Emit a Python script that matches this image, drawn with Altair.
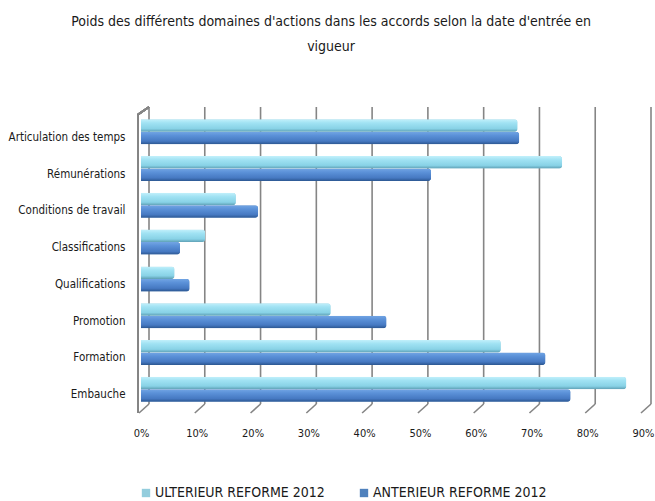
import altair as alt
import pandas as pd

# Action domains (top to bottom) and the two agreement periods
categories = [
    "Articulation des temps",
    "Rémunérations",
    "Conditions de travail",
    "Classifications",
    "Qualifications",
    "Promotion",
    "Formation",
    "Embauche",
]
series = ["ULTERIEUR REFORME 2012", "ANTERIEUR REFORME 2012"]
ulterieur = [0.675, 0.755, 0.17, 0.115, 0.06, 0.34, 0.645, 0.87]
anterieur = [0.678, 0.52, 0.21, 0.07, 0.087, 0.44, 0.725, 0.77]
x_ticks = [0.0, 0.1, 0.2, 0.3, 0.4, 0.5, 0.6, 0.7, 0.8, 0.9]

colors = ["#93cddd", "#4f81bd"]
FONT = "DejaVu Sans Condensed, DejaVu Sans, sans-serif"

rows = []
for cat, u, a in zip(categories, ulterieur, anterieur):
    rows.append({"domaine": cat, "periode": series[0], "part": u})
    rows.append({"domaine": cat, "periode": series[1], "part": a})
df = pd.DataFrame(rows)
ticks_df = pd.DataFrame({"t": x_ticks})

W, H = 502, 295
x_scale = alt.Scale(domain=[0, 0.9], nice=False, zero=True)
y_scale = alt.Scale(domain=categories, paddingInner=0.32, paddingOuter=0.17)
off_scale = alt.Scale(domain=series, paddingInner=0, paddingOuter=0)

# One axis definition shared by every layer so the merged axes agree
x_axis = alt.Axis(
    values=x_ticks,
    format=".0%",
    grid=False,
    ticks=False,
    domain=False,
    labelFlush=False,
    labelPadding=19,
    labelFont=FONT,
    labelFontSize=11,
    labelColor="#1a1a1a",
    title=None,
)
y_axis = alt.Axis(
    ticks=False,
    domain=False,
    grid=False,
    labelPadding=16,
    labelOffset=6,
    labelFont=FONT,
    labelFontSize=11.5,
    labelColor="#1a1a1a",
    title=None,
)

grey = dict(color="#858585", strokeWidth=1.6)

# Back wall gridlines, shifted to suggest depth
grid = (
    alt.Chart(ticks_df)
    .mark_rule(xOffset=8, **grey)
    .encode(x=alt.X("t:Q", scale=x_scale, axis=x_axis), y=alt.value(-6), y2=alt.value(291))
)
# Floor edges joining each gridline to the front plane
floor = (
    alt.Chart(ticks_df)
    .mark_rule(xOffset=-2, x2Offset=8, **grey)
    .encode(
        x=alt.X("t:Q", scale=x_scale, axis=x_axis),
        x2="t:Q",
        y=alt.value(300),
        y2=alt.value(291),
    )
)
# Front edge of the left wall and its top corner
wall_front = alt.Chart(ticks_df).mark_rule(**grey).encode(
    x=alt.value(-3), y=alt.value(1.5), y2=alt.value(300)
)
wall_top = alt.Chart(ticks_df).mark_rule(**grey).encode(
    x=alt.value(-3), x2=alt.value(8), y=alt.value(1.5), y2=alt.value(-6)
)

x_enc = alt.X("part:Q", scale=x_scale, axis=x_axis)
y_enc = alt.Y("domaine:N", scale=y_scale, sort=categories, axis=y_axis)
off_enc = alt.YOffset("periode:N", scale=off_scale, sort=series)

bars = alt.Chart(df).mark_bar(cornerRadiusEnd=3).encode(
    x=x_enc,
    y=y_enc,
    yOffset=off_enc,
    color=alt.Color(
        "periode:N",
        scale=alt.Scale(domain=series, range=colors),
        legend=alt.Legend(
            title=None,
            orient="none",
            direction="horizontal",
            legendX=-2,
            legendY=373,
            symbolType="square",
            symbolSize=70,
            symbolStrokeWidth=0,
            labelFont=FONT,
            labelFontSize=14,
            labelColor="#1a1a1a",
            labelOffset=2,
            labelLimit=0,
            columnPadding=32,
        ),
    ),
)


def shaded(name, stops):
    grad = alt.Gradient(
        gradient="linear",
        x1=0, x2=0, y1=0, y2=1,
        stops=[alt.GradientStop(offset=o, color=c) for o, c in stops],
    )
    return (
        alt.Chart(df)
        .transform_filter(alt.datum.periode == name)
        .mark_bar(cornerRadiusEnd=3, fill=grad)
        .encode(x=x_enc, y=y_enc, yOffset=off_enc)
    )


light = shaded(series[0], [(0, "#c2f0fb"), (0.3, "#a0e2f3"), (0.75, "#88d2e6"), (1, "#5e9fb4")])
dark = shaded(series[1], [(0, "#72a5e4"), (0.3, "#5b91d8"), (0.75, "#4679c2"), (1, "#2b5690")])

chart = (
    alt.layer(grid, floor, wall_front, wall_top, bars, light, dark)
    .properties(
        width=W,
        height=H,
        padding={"left": 141, "top": 113, "right": 12, "bottom": 93},
        autosize=alt.AutoSizeParams(type="none"),
        title=alt.TitleParams(
            ["Poids des différents domaines d'actions dans les accords selon la date d'entrée en", "vigueur"],
            font=FONT,
            fontSize=14,
            fontWeight="normal",
            color="#1a1a1a",
            anchor="middle",
            frame="bounds",
            offset=52,
            lineHeight=25,
            limit=0,
        ),
    )
    .configure(background="white")
    .configure_view(stroke="transparent", strokeWidth=0)
)

chart.save("out.html", embed_options={"renderer": "svg", "actions": False})
